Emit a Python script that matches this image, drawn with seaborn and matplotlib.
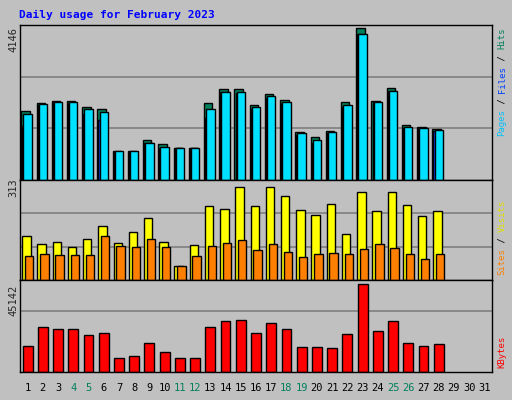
import numpy as np
import matplotlib
matplotlib.use("Agg")
import matplotlib.pyplot as plt
import seaborn as sns

sns.set_style("white")
plt.rcParams["font.family"] = ["DejaVu Sans Mono"]

days = list(range(1, 32))
weekend_days = [4, 5, 11, 12, 18, 19, 25, 26]
hits = [1880, 2100, 2156, 2156, 1990, 1935, 800, 800, 1078, 995, 885, 885, 2100, 2488,
        2488, 2045, 2350, 2184, 1300, 1160, 1327, 2128, 4146, 2156, 2515, 1493, 1437, 1382]
files = [1480, 2050, 2130, 2110, 1800, 1650, 770, 770, 1000, 885, 885, 885, 1700, 2400,
         2380, 1950, 2240, 2100, 1240, 1020, 1270, 2000, 3980, 2130, 2430, 1410, 1410, 1350]
pages = [1800, 2060, 2130, 2130, 1930, 1850, 780, 780, 1020, 900, 885, 885, 1950, 2410,
         2400, 1990, 2280, 2130, 1270, 1080, 1300, 2050, 3990, 2130, 2440, 1440, 1420, 1370]
visits = [145, 119, 125, 109, 135, 178, 122, 158, 204, 125, 46, 115, 244, 234,
          306, 244, 306, 277, 231, 214, 250, 152, 290, 227, 290, 247, 211, 227]
sites = [79, 86, 82, 82, 82, 145, 112, 109, 135, 109, 46, 79, 112, 122,
         132, 99, 119, 92, 76, 86, 89, 86, 102, 119, 105, 86, 69, 86]
kbytes = [13648, 23097, 22047, 22047, 18897, 19947, 7349, 8399, 14698, 10499, 7349, 7349,
          23097, 26246, 26771, 19947, 25196, 22047, 13123, 13123, 12598, 19422, 45142,
          20997, 26246, 14698, 13648, 14173]

W, H = 512, 400
BG = "#c0c0c0"
fig = plt.figure(figsize=(W / 100, H / 100), dpi=100, facecolor=BG)

fig.text(19 / W, 1 - 15 / H, "Daily usage for February 2023", color="#0000ff",
         fontsize=8, fontweight="bold", va="center")

def panel(top, bottom):
    ax = fig.add_axes([20 / W, 1 - bottom / H, 472 / W, (bottom - top) / H])
    ax.set_facecolor(BG)
    ax.set_xlim(0.5, 31.5)
    ax.set_xticks([])
    ax.set_yticks([])
    for s in ax.spines.values():
        s.set_color("black")
        s.set_linewidth(1)
    return ax

x = np.arange(1, len(hits) + 1)
bw = 0.55
ek = dict(edgecolor="black", linewidth=1)

# Panel 1: hits / files / pages
ax1 = panel(25, 180)
ax1.set_ylim(0, 4146 * 1.02)
for f in (1 / 3, 2 / 3):
    ax1.axhline(4146 * 1.02 * f, color="#808080", lw=1.2, zorder=0)
ax1.bar(x - 0.14, hits, width=bw, color="#00805c", zorder=2, **ek)
ax1.bar(x - 0.07, files, width=bw, color="#0040ff", zorder=3, **ek)
ax1.bar(x, pages, width=bw, color="#00e0ff", zorder=4, **ek)
fig.text(13 / W, 1 - 40 / H, "4146", rotation=90, fontsize=7.5, va="center", ha="center")

# Panel 2: visits / sites
ax2 = panel(180, 280)
ax2.set_ylim(0, 313 * 1.05)
for f in (1 / 3, 2 / 3):
    ax2.axhline(313 * 1.05 * f, color="#808080", lw=1.2, zorder=0)
ax2.bar(x - 0.08, visits, width=bw, color="#ffff00", zorder=2, **ek)
ax2.bar(x + 0.1, sites, width=bw, color="#ff8000", zorder=3, **ek)
fig.text(13 / W, 1 - 188 / H, "313", rotation=90, fontsize=7.5, va="center", ha="center")

# Panel 3: kbytes
ax3 = panel(280, 372)
ax3.set_ylim(0, 45142 * 1.05)
ax3.axhline(45142 * 1.05 * 2 / 3, color="#808080", lw=1.2, zorder=0)
ax3.bar(x, kbytes, width=0.65, color="#ff0000", zorder=2, **ek)
fig.text(13 / W, 1 - 300 / H, "45142", rotation=90, fontsize=7.5, va="center", ha="center")

# day labels
for d in days:
    col = "#00805c" if d in weekend_days else "black"
    xf = (20 + (d - 0.5) / 31 * 472) / W
    fig.text(xf, 1 - 388 / H, str(d), color=col, fontsize=7.5, ha="center", va="center")

# right side legends (rotated, built piece by piece)
LFS = 6.5
CH = 0.6 * LFS * 100 / 72

def vlegend(parts, y_start):
    y = y_start
    for txt, col in parts:
        fig.text(502 / W, 1 - y / H, txt, rotation=90, rotation_mode="anchor",
                 color=col, fontsize=LFS, ha="left", va="center")
        y -= len(txt) * CH

vlegend([("Pages", "#00c0ff"), (" / ", "black"), ("Files", "#0040ff"),
         (" / ", "black"), ("Hits", "#00805c")], 136)
vlegend([("Sites", "#ff8000"), (" / ", "black"), ("Visits", "#e0e000")], 275)
vlegend([("KBytes", "#ff0000")], 368)

fig.savefig("out.png", dpi=100, facecolor=BG)
